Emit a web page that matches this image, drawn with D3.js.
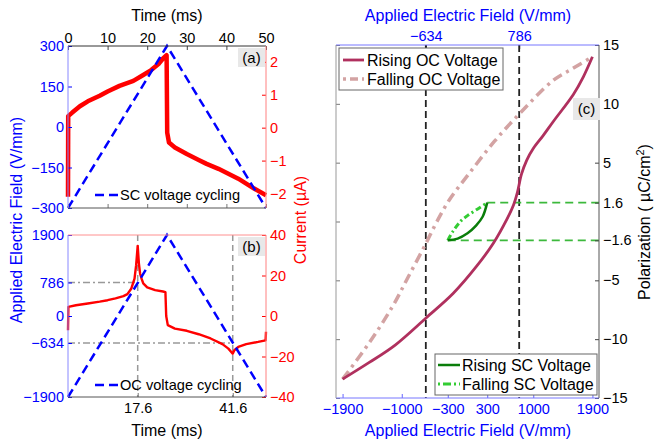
<!DOCTYPE html>
<html><head><meta charset="utf-8">
<script src="https://cdn.jsdelivr.net/npm/d3@7"></script>
<style>
body{margin:0;background:#fff;}
svg{font-family:"Liberation Sans",Arial,Helvetica,sans-serif;}
</style></head>
<body>
<svg id="c" width="655" height="442"></svg>
<script>
// ---------------- DATA ----------------
// Panel (a): SC voltage cycling
const timeTicksA = [0,10,20,30,40,50];
const fieldTicksA = [-300,-150,0,150,300];
const currentTicksA = [-2,-1,0,1,2];
const scField = [[0,-300],[25,300],[50,-300]];
const scCurrent = [[0,-2.1],[0.05,0.35],[1,0.45],[3,0.65],[5,0.8],[8,0.97],[10,1.1],[13,1.27],[16.5,1.42],[19,1.6],[21,1.75],[23,1.95],[24,2.1],[24.9,2.2],[25.05,-0.15],[25.5,-0.45],[27,-0.6],[30,-0.8],[33,-0.98],[35,-1.1],[38,-1.25],[40,-1.37],[43,-1.55],[45,-1.7],[47,-1.85],[50,-2.05]];

// Panel (b): OC voltage cycling
const timeTicksB = [17.6,41.6];
const fieldTicksB = [-1900,-634,0,786,1900];
const currentTicksB = [-40,-20,0,20,40];
const ocField = [[0,-1900],[25,1900],[50,-1900]];
const ocCurrent = [[0,-7],[0.1,4.5],[2,5.3],[5,6.2],[8,7.1],[10,7.8],[12,8.7],[14,9.8],[15,10.8],[16,13.6],[16.8,18.5],[17.2,25],[17.6,34.6],[17.9,26],[18.2,21],[18.6,18.3],[19,16.1],[20,14.1],[22,12.8],[24,12.1],[24.6,11.8],[24.8,0],[25.2,-4.5],[27,-6.2],[30,-7.3],[33,-9],[36,-11.1],[39,-13.9],[40.5,-16.1],[41.6,-18.6],[42,-16.9],[43,-15.3],[45,-13.9],[48,-12.8],[49.9,-12],[50,-7.8]];
const markTimes = [17.6,41.6];
const markFields = [786,-634];

// Panel (c): polarization loops
const fieldTicksBottom = [-1900,-1000,-300,300,1000,1900];
const fieldTicksTop = [-634,786];
const polTicksRight = [15,10,5,1.6,-1.6,-5,-10,-15];
const polTicksLeft = [15,10,5,0,-5,-10,-15];
const risingOC = [[-1900,-13.4],[-1500,-12.0],[-1100,-10.5],[-631,-8.2],[-216,-6.1],[139,-3.8],[393,-1.85],[600,0.2],[700,1.4],[760,2.5],[820,4.0],[900,5.2],[1000,6.2],[1150,7.3],[1305,8.5],[1610,10.8],[1762,12.3],[1900,14.0]];
const fallingOC = [[-1900,-13.4],[-1493,-10.3],[-1138,-7.2],[-910,-4.8],[-631,-1.85],[-479,-0.15],[-277,1.83],[28,4.1],[408,6.8],[798,9.2],[1305,12.0],[1600,13.0],[1900,14.0]];
const risingSC = [[-300,-1.6],[-150,-1.45],[0,-1.0],[130,-0.35],[230,0.4],[300,1.6]];
const fallingSC = [[-300,-1.6],[-225,-0.87],[-100,0.05],[0,0.5],[150,1.05],[300,1.6]];
const scLimits = [[-300,-1.6],[300,1.6]];
const ocLimits = [-634,786];

// ---------------- DRAW ----------------
const svg = d3.select("#c");
const BLUE="#0000ff", RED="#ff0000";
const fmt = d => d3.format("")(d).replace("-","−");

function ticks(g, scale, vals, orient, color, labelColor, showLabels, pad){
  const ax = orient(scale).tickValues(vals).tickSize(-4).tickPadding(pad||4)
     .tickFormat(showLabels? fmt : "");
  g.call(ax);
  g.select(".domain").remove();
  g.selectAll("line").attr("stroke", color);
  g.selectAll("text").attr("fill", labelColor).style("font-size","14.5px").attr("font-family",null);
}
function spine(x1,y1,x2,y2,color){
  svg.append("line").attr("x1",x1).attr("y1",y1).attr("x2",x2).attr("y2",y2)
    .attr("stroke",color).attr("stroke-width",1);
}
function text(x,y,s,opts){
  const t=svg.append("text").attr("x",x).attr("y",y).text(s)
    .style("font-size",(opts.size||14)+"px").attr("fill",opts.fill||"#000")
    .attr("text-anchor",opts.anchor||"middle");
  if(opts.rot) t.attr("transform",`rotate(${opts.rot},${x},${y})`);
  return t;
}
function tag(x0,y0,w,h,s){
  svg.append("rect").attr("x",x0).attr("y",y0).attr("width",w).attr("height",h).attr("fill","#e8e8e8");
  text(x0+w/2,y0+h/2+5,s,{size:15});
}

// ----- Panel (a)
const xa = d3.scaleLinear().domain([0,50]).range([68,266]);
const ya = d3.scaleLinear().domain([-300,300]).range([208,46]);
const yaR = d3.scaleLinear().domain([-2.44,2.48]).range([208,46]);
const lineA = d3.line().x(d=>xa(d[0])).y(d=>ya(d[1]));
const lineAR = d3.line().x(d=>xa(d[0])).y(d=>yaR(d[1]));

svg.append("path").attr("d",lineAR(scCurrent)).attr("fill","none").attr("stroke",RED).attr("stroke-width",4.5).attr("stroke-linejoin","round");
svg.append("path").attr("d",lineA(scField)).attr("fill","none").attr("stroke",BLUE).attr("stroke-width",2.5).attr("stroke-dasharray","9,5");

ticks(svg.append("g").attr("transform","translate(0,46)"), xa, timeTicksA, d3.axisTop, "#444", "#000", true, 3);
ticks(svg.append("g").attr("transform","translate(0,208)"), xa, timeTicksA, d3.axisBottom, "#777", "#000", false);
ticks(svg.append("g").attr("transform","translate(68,0)"), ya, fieldTicksA, d3.axisLeft, BLUE, BLUE, true, 4);
ticks(svg.append("g").attr("transform","translate(266,0)"), yaR, currentTicksA, d3.axisRight, RED, RED, true, 4);
spine(68,46,266,46,"#333"); spine(68,208,266,208,"#555");
spine(68,46,68,208,"#8888ff"); spine(266,46,266,208,"#ff8080");

svg.append("line").attr("x1",95).attr("x2",118).attr("y1",195).attr("y2",195).attr("stroke",BLUE).attr("stroke-width",2.5).attr("stroke-dasharray","9,5");
text(120,200,"SC voltage cycling",{anchor:"start",size:14.6});
tag(238,48,27,19,"(a)");
text(167,21,"Time (ms)",{size:16});

// ----- Panel (b)
const xb = d3.scaleLinear().domain([0,50]).range([68,266]);
const yb = d3.scaleLinear().domain([-1900,1900]).range([397,235]);
const ybR = d3.scaleLinear().domain([-40,40]).range([397,235]);
const lineB = d3.line().x(d=>xb(d[0])).y(d=>yb(d[1]));
const lineBR = d3.line().x(d=>xb(d[0])).y(d=>ybR(d[1]));

markTimes.forEach(t=>{
  svg.append("line").attr("x1",xb(t)).attr("x2",xb(t)).attr("y1",235).attr("y2",397)
    .attr("stroke","#999").attr("stroke-width",1.5).attr("stroke-dasharray","6,4");
});
markFields.forEach((f,i)=>{
  svg.append("line").attr("x1",68).attr("x2",xb(markTimes[i])).attr("y1",yb(f)).attr("y2",yb(f))
    .attr("stroke","#999").attr("stroke-width",1.5).attr("stroke-dasharray","7,3,2,3");
});
svg.append("path").attr("d",lineBR(ocCurrent)).attr("fill","none").attr("stroke",RED).attr("stroke-width",2.4).attr("stroke-linejoin","round");
svg.append("path").attr("d",lineB(ocField)).attr("fill","none").attr("stroke",BLUE).attr("stroke-width",2.5).attr("stroke-dasharray","9,5");

ticks(svg.append("g").attr("transform","translate(0,397)"), xb, timeTicksB, d3.axisBottom, "#777", "#000", true, 6);
ticks(svg.append("g").attr("transform","translate(68,0)"), yb, fieldTicksB, d3.axisLeft, BLUE, BLUE, true, 4);
ticks(svg.append("g").attr("transform","translate(266,0)"), ybR, currentTicksB, d3.axisRight, RED, RED, true, 4);
spine(68,235,266,235,"#ff9090"); spine(68,397,266,397,"#555");
spine(68,235,68,397,"#8888ff"); spine(266,235,266,397,"#ff8080");

svg.append("line").attr("x1",95).attr("x2",118).attr("y1",385).attr("y2",385).attr("stroke",BLUE).attr("stroke-width",2.5).attr("stroke-dasharray","9,5");
text(120,390,"OC voltage cycling",{anchor:"start",size:14.6});
tag(238,237,27,19,"(b)");
text(167,436,"Time (ms)",{size:16});

text(22,220,"Applied Electric Field (V/mm)",{size:16,fill:BLUE,rot:-90});
text(306,220,"Current (µA)",{size:16,fill:RED,rot:-90});

// ----- Panel (c)
const xc = d3.scaleLinear().domain([-2000,2000]).range([336,599]);
const yc = d3.scaleLinear().domain([-15,15]).range([398,45]);
const lineC = d3.line().x(d=>xc(d[0])).y(d=>yc(d[1])).curve(d3.curveCatmullRom.alpha(0.5));

ocLimits.forEach(f=>{
  svg.append("line").attr("x1",xc(f)).attr("x2",xc(f)).attr("y1",45).attr("y2",398)
    .attr("stroke","#222").attr("stroke-width",1.8).attr("stroke-dasharray","7,4");
});
scLimits.forEach(d=>{
  svg.append("line").attr("x1",xc(d[0])).attr("x2",599).attr("y1",yc(d[1])).attr("y2",yc(d[1]))
    .attr("stroke","#3cb93c").attr("stroke-width",1.6).attr("stroke-dasharray","8,5");
});
svg.append("path").attr("d",lineC(fallingOC)).attr("fill","none").attr("stroke","#d3a3a3").attr("stroke-width",3.5).attr("stroke-dasharray","10,5,3,5");
svg.append("path").attr("d",lineC(risingOC)).attr("fill","none").attr("stroke","#b0305e").attr("stroke-width",2.8);
svg.append("path").attr("d",lineC(fallingSC)).attr("fill","none").attr("stroke","#33cc33").attr("stroke-width",3).attr("stroke-dasharray","6,3,2,3");
svg.append("path").attr("d",lineC(risingSC)).attr("fill","none").attr("stroke","#0a7d0a").attr("stroke-width",2.5);

ticks(svg.append("g").attr("transform","translate(0,398)"), xc, fieldTicksBottom, d3.axisBottom, "#6666ff", BLUE, true, 6);
ticks(svg.append("g").attr("transform","translate(0,45)"), xc, fieldTicksTop, d3.axisTop, "#222", BLUE, true, 4);
ticks(svg.append("g").attr("transform","translate(336,0)"), yc, polTicksLeft, d3.axisLeft, "#777", "#000", false);
ticks(svg.append("g").attr("transform","translate(599,0)"), yc, polTicksRight, d3.axisRight, "#444", "#000", true, 4);
spine(336,45,599,45,"#7777ff"); spine(336,398,599,398,"#7777ff");
spine(336,45,336,398,"#999"); spine(599,45,599,398,"#555");

// legends
svg.append("rect").attr("x",339).attr("y",48).attr("width",164).attr("height",42).attr("fill","#fff").attr("stroke","#666");
svg.append("line").attr("x1",343).attr("x2",364).attr("y1",60).attr("y2",60).attr("stroke","#b0305e").attr("stroke-width",2.8);
svg.append("line").attr("x1",343).attr("x2",364).attr("y1",79).attr("y2",79).attr("stroke","#d3a3a3").attr("stroke-width",3.5).attr("stroke-dasharray","3,4,8,4");
text(367,66,"Rising OC Voltage",{anchor:"start",size:16});
text(367,85,"Falling OC Voltage",{anchor:"start",size:16});

svg.append("rect").attr("x",435).attr("y",354).attr("width",162).attr("height",41).attr("fill","#fff").attr("stroke","#666");
svg.append("line").attr("x1",438).attr("x2",460).attr("y1",365).attr("y2",365).attr("stroke","#0a7d0a").attr("stroke-width",2.5);
svg.append("line").attr("x1",438).attr("x2",460).attr("y1",384).attr("y2",384).attr("stroke","#33cc33").attr("stroke-width",3).attr("stroke-dasharray","2,3,8,3");
text(462,371,"Rising SC Voltage",{anchor:"start",size:16});
text(462,390,"Falling SC Voltage",{anchor:"start",size:16});

tag(573,98,27,22,"(c)");
text(468,21,"Applied Electric Field (V/mm)",{size:16,fill:BLUE});
text(468,436,"Applied Electric Field (V/mm)",{size:16,fill:BLUE});
const pt = svg.append("text").attr("transform","translate(650,222) rotate(-90)").attr("text-anchor","middle").style("font-size","16px");
pt.append("tspan").text("Polarization ( µC/cm");
pt.append("tspan").text("2").attr("dy",-6).style("font-size","11px");
pt.append("tspan").text(")").attr("dy",6);
</script>
</body></html>
